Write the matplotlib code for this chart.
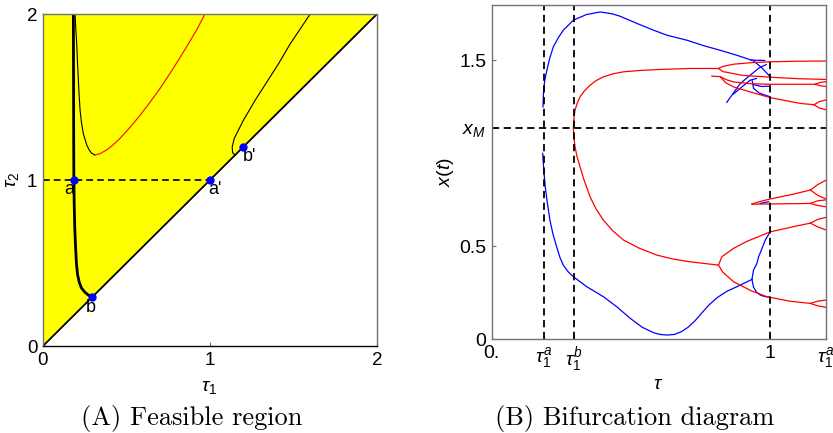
import matplotlib
matplotlib.use("Agg")
import matplotlib.pyplot as plt

plt.rcParams['font.family'] = ['Liberation Sans', 'DejaVu Sans']
plt.rcParams['mathtext.fontset'] = 'custom'
plt.rcParams['mathtext.rm'] = 'Liberation Sans'
plt.rcParams['mathtext.it'] = 'Liberation Sans:italic'

# ---- panel A: feasible region (tau1, tau2) ----
feasible = [(0, 0), (2, 2), (0, 2)]
diag = [(0, 0), (2, 2)]
thick_curve = [(0.182, 2.0), (0.183, 1.6), (0.184, 1.2), (0.185, 1.0), (0.187, 0.85),
               (0.19, 0.72), (0.195, 0.6), (0.2, 0.5), (0.207, 0.43), (0.217, 0.385),
               (0.23, 0.35), (0.25, 0.325), (0.27, 0.308), (0.295, 0.295)]
thin_black = [(0.192, 2.0), (0.197, 1.9), (0.202, 1.823), (0.206, 1.72), (0.211, 1.622),
              (0.216, 1.52), (0.222, 1.422), (0.23, 1.35), (0.241, 1.281), (0.262, 1.211),
              (0.277, 1.18), (0.292, 1.161), (0.311, 1.151)]
thin_red = [(0.311, 1.151), (0.34, 1.158), (0.381, 1.181), (0.42, 1.212), (0.461, 1.251),
            (0.50, 1.293), (0.541, 1.341), (0.581, 1.39), (0.621, 1.442), (0.66, 1.495),
            (0.701, 1.552), (0.74, 1.611), (0.78, 1.673), (0.82, 1.737), (0.86, 1.803),
            (0.92, 1.904), (0.97, 2.0)]
right_curve = [(1.15, 1.15), (1.135, 1.165), (1.133, 1.20), (1.145, 1.25), (1.16, 1.28),
               (1.2, 1.36), (1.27, 1.48), (1.34, 1.59), (1.41, 1.70), (1.48, 1.82),
               (1.54, 1.91), (1.60, 2.0)]
pt_names = ['a', "a'", 'b', "b'"]
pt_tau1 = [0.183, 1.0, 0.295, 1.2]
pt_tau2 = [1.0, 1.0, 0.295, 1.2]
lbl_tau1 = [0.16, 1.03, 0.287, 1.235]
lbl_tau2 = [0.94, 0.94, 0.23, 1.14]

# ---- panel B: bifurcation diagram (tau, x) ----
tau_a, tau_b, x_M = 0.186, 0.294, 1.136
blue_upper = [(0.184, 1.25), (0.186, 1.331), (0.19, 1.39), (0.198, 1.448), (0.208, 1.51),
              (0.221, 1.573), (0.238, 1.62), (0.257, 1.663), (0.293, 1.717), (0.34, 1.747),
              (0.389, 1.761), (0.43, 1.752), (0.461, 1.738), (0.52, 1.70), (0.581, 1.663),
              (0.629, 1.636), (0.701, 1.609), (0.76, 1.58), (0.82, 1.555), (0.88, 1.528),
              (0.94, 1.498), (0.97, 1.46), (1.0, 1.412)]
blue_lower = [(0.183, 1.0), (0.186, 0.93), (0.192, 0.821), (0.2, 0.73), (0.209, 0.641),
              (0.22, 0.565), (0.233, 0.498), (0.245, 0.44), (0.257, 0.399), (0.275, 0.362),
              (0.293, 0.337), (0.341, 0.283), (0.401, 0.229), (0.449, 0.175), (0.497, 0.113),
              (0.54, 0.065), (0.58, 0.036), (0.605, 0.026), (0.629, 0.023), (0.655, 0.026),
              (0.68, 0.04), (0.705, 0.065), (0.73, 0.10), (0.755, 0.143), (0.78, 0.185),
              (0.81, 0.225), (0.844, 0.258), (0.89, 0.29), (0.934, 0.322)]
blue_fork_up = [(0.934, 0.322), (0.94, 0.373), (0.952, 0.408), (0.958, 0.444),
                (0.968, 0.48), (0.982, 0.534), (1.0, 0.579)]
blue_fork_down = [(0.934, 0.322), (0.94, 0.28), (0.95, 0.255), (0.964, 0.238),
                  (0.98, 0.23), (1.0, 0.226)]
blue_top = [(0.93, 1.502), (0.98, 1.50)]
blue_arc1 = [(0.844, 1.275), (0.87, 1.33), (0.892, 1.376), (0.928, 1.421), (0.96, 1.46),
             (0.985, 1.478)]
blue_arc2 = [(0.868, 1.32), (0.90, 1.36), (0.928, 1.394), (0.95, 1.403)]
blue_arc3 = [(0.935, 1.39), (0.94, 1.35), (0.96, 1.325), (0.988, 1.31), (1.0, 1.305)]
blue_arc4 = [(0.94, 1.37), (0.97, 1.36), (1.0, 1.362)]
blue_tiny = [(0.964, 0.731), (0.994, 0.740)]

red_main = [(0.814, 0.399), (0.712, 0.417), (0.65, 0.432), (0.593, 0.453), (0.53, 0.49),
            (0.473, 0.534), (0.435, 0.583), (0.401, 0.641), (0.375, 0.70), (0.353, 0.767),
            (0.333, 0.85), (0.317, 0.928), (0.306, 0.985), (0.299, 1.036), (0.295, 1.09),
            (0.293, 1.134), (0.295, 1.185), (0.299, 1.233), (0.307, 1.27), (0.317, 1.304),
            (0.333, 1.337), (0.353, 1.367), (0.375, 1.392), (0.401, 1.412), (0.435, 1.428),
            (0.473, 1.439), (0.53, 1.446), (0.593, 1.451), (0.712, 1.457), (0.814, 1.457)]
red_up_a = [(0.814, 1.457), (0.83, 1.468), (0.868, 1.48), (0.93, 1.488), (1.0, 1.493),
            (1.1, 1.496), (1.2, 1.497)]
red_up_b = [(0.814, 1.457), (0.83, 1.44), (0.856, 1.433), (0.9, 1.42), (1.0, 1.41),
            (1.1, 1.402), (1.2, 1.398)]
red_stub_a = [(0.79, 1.416), (0.82, 1.413), (0.845, 1.395), (0.868, 1.385), (0.93, 1.375),
              (1.0, 1.372), (1.1, 1.372), (1.16, 1.372)]
red_stub_a1 = [(1.16, 1.372), (1.18, 1.382), (1.2, 1.386)]
red_stub_a2 = [(1.16, 1.372), (1.18, 1.364), (1.2, 1.36)]
red_stub_b = [(0.82, 1.413), (0.84, 1.38), (0.868, 1.358), (0.93, 1.33), (1.0, 1.30),
              (1.108, 1.269), (1.157, 1.262)]
red_stub_b1 = [(1.157, 1.262), (1.175, 1.278), (1.2, 1.288)]
red_stub_b2 = [(1.157, 1.262), (1.175, 1.245), (1.2, 1.235)]
red_lo_up = [(0.814, 0.399), (0.826, 0.444), (0.868, 0.489), (0.916, 0.527), (1.0, 0.578),
             (1.08, 0.605), (1.144, 0.625)]
red_lo_up1 = [(1.144, 0.625), (1.17, 0.645), (1.2, 0.656)]
red_lo_up2 = [(1.144, 0.625), (1.17, 0.605), (1.2, 0.588)]
red_lo_down = [(0.814, 0.399), (0.83, 0.36), (0.868, 0.31), (0.93, 0.262), (0.988, 0.229),
               (1.07, 0.205), (1.144, 0.193)]
red_lo_down1 = [(1.144, 0.193), (1.17, 0.205), (1.2, 0.211)]
red_lo_down2 = [(1.144, 0.193), (1.17, 0.18), (1.2, 0.172)]
red_mid_a = [(0.934, 0.727), (0.96, 0.74), (1.0, 0.755), (1.08, 0.78), (1.144, 0.803)]
red_mid_a1 = [(1.144, 0.803), (1.17, 0.832), (1.2, 0.856)]
red_mid_a2 = [(1.144, 0.803), (1.17, 0.775), (1.2, 0.755)]
red_mid_b = [(0.934, 0.727), (1.0, 0.728), (1.144, 0.731)]
red_mid_b1 = [(1.144, 0.731), (1.17, 0.745), (1.2, 0.75)]
red_mid_b2 = [(1.144, 0.731), (1.17, 0.72), (1.2, 0.713)]

blue_branches = [blue_upper, blue_lower, blue_fork_up, blue_fork_down, blue_top,
                 blue_arc1, blue_arc2, blue_arc3, blue_arc4, blue_tiny]
red_branches = [red_main, red_up_a, red_up_b, red_stub_a, red_stub_a1, red_stub_a2,
                red_stub_b, red_stub_b1, red_stub_b2, red_lo_up, red_lo_up1, red_lo_up2,
                red_lo_down, red_lo_down1, red_lo_down2, red_mid_a, red_mid_a1, red_mid_a2,
                red_mid_b, red_mid_b1, red_mid_b2]

b_ticks = [0, tau_a, tau_b, 1, 1.2]
b_ticklabels = ['0.', r'$\tau_1^a$', r'$\tau_1^b$', '1', r'$\tau_1^a$']
b_yticks = [0, 0.5, x_M, 1.5]
b_yticklabels = ['0', '0.5', r'$x_M$', '1.5']


def xy(pts):
    return [p[0] for p in pts], [p[1] for p in pts]


fig = plt.figure(figsize=(8.33, 4.33), dpi=100)
ax1 = fig.add_axes([0.0516, 0.2009, 0.401, 0.7667])
ax2 = fig.add_axes([0.5903, 0.2164, 0.4013, 0.7727])

for ax, fs in ((ax1, 13.5), (ax2, 14)):
    for s in ax.spines.values():
        s.set_color('0.45')
        s.set_linewidth(1.0)
    ax.tick_params(direction='in', length=3, color='0.45', labelsize=fs, pad=4)

# panel A
ax1.fill(*xy(feasible), color='#ffff00', zorder=0.5, lw=0)
ax1.plot(*xy(diag), color='k', lw=1.3)
ax1.plot([0, 1], [1, 1], color='k', lw=1.2, dashes=(4, 2.5))
ax1.plot(*xy(thick_curve), color='k', lw=2.0)
ax1.plot(*xy(thin_black), color='k', lw=0.8)
ax1.plot(*xy(thin_red), color='red', lw=0.8)
ax1.plot(*xy(right_curve), color='k', lw=0.8)
ax1.plot(pt_tau1, pt_tau2, 'o', color='blue', ms=5, zorder=5)
for n, tx, ty in zip(pt_names, lbl_tau1, lbl_tau2):
    ax1.text(tx, ty, n, fontsize=13, ha='center', va='center')
ax1.set_xlim(0, 2)
ax1.set_ylim(0, 2)
ax1.set_xticks([0, 1, 2])
ax1.set_yticks([0, 1, 2])
ax1.spines['bottom'].set_color('k')

# panel B
for br in blue_branches:
    ax2.plot(*xy(br), color='blue', lw=0.9)
for br in red_branches:
    ax2.plot(*xy(br), color='red', lw=0.9)
for t in [tau_a, tau_b, 1.0]:
    ax2.axvline(t, color='k', lw=1.3, dashes=(4, 2.5))
ax2.axhline(x_M, color='k', lw=1.3, dashes=(4, 2.5))
ax2.set_xlim(0, 1.2)
ax2.set_ylim(0, 1.8)
ax2.set_xticks(b_ticks)
ax2.set_xticklabels(b_ticklabels)
ax2.set_yticks(b_yticks)
ax2.set_yticklabels(b_yticklabels)

fig.text(0.251, 0.104, r'$\tau_1$', fontsize=14, ha='center', va='center')
fig.text(0.0156, 0.584, r'$\tau_2$', fontsize=14, ha='center', va='center', rotation=90)
fig.text(0.790, 0.111, r'$\tau$', fontsize=14, ha='center', va='center')
fig.text(0.535, 0.603, r'$x(t)$', fontsize=14, ha='center', va='center', rotation=90)
fig.text(0.2305, 0.0346, '(A) Feasible region', family='cmr10', fontsize=19,
         ha='center', va='center')
fig.text(0.762, 0.0346, '(B) Bifurcation diagram', family='cmr10', fontsize=19,
         ha='center', va='center')

fig.savefig('out.png', dpi=100)
